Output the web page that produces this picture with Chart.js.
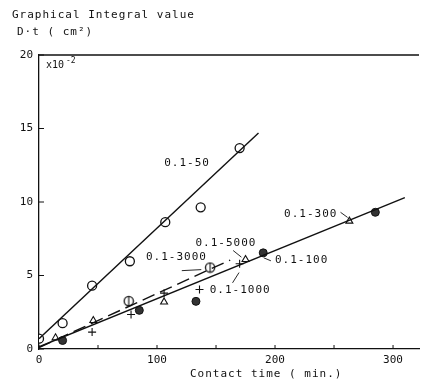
<!DOCTYPE html>
<html>
  <head>
    <title>Graphical integral value vs contact time</title>
    <script src="https://cdn.jsdelivr.net/npm/chart.js"></script>
    <style>
      body {
        margin: 0;
        background: #fff;
      }
      #wrap {
        width: 425px;
        height: 381px;
      }
    </style>
  </head>
  <body>
    <div id="wrap"><canvas id="chart"></canvas></div>

    <script>
      // contact time (min.) and D·t (x10^-2 cm^2) for each dilution
      const time50 = [0, 20, 45, 77, 107, 137, 170];
      const dt50 = [0.7, 1.76, 4.31, 5.97, 8.63, 9.64, 13.67];
      const time100 = [20, 85, 133, 190, 285];
      const dt100 = [0.58, 2.63, 3.24, 6.54, 9.3];
      const time300 = [263];
      const dt300 = [8.7];
      const time1000 = [45, 78, 106, 136, 170];
      const dt1000 = [1.15, 2.35, 3.8, 4.05, 5.8];
      const time3000 = [76, 145];
      const dt3000 = [3.26, 5.54];
      const time5000 = [14, 46, 106, 175];
      const dt5000 = [0.76, 1.94, 3.2, 6.09];

      // straight lines drawn through the points
      const lineUpperX = [0, 186];
      const lineUpperY = [0.7, 14.7];
      const lineLowerX = [0, 310];
      const lineLowerY = [0.15, 10.3];
      const lineDashX = [0, 162];
      const lineDashY = [0.1, 6.05];

      const xTicks = [0, 100, 200, 300];
      const xMinorTicks = [50, 150, 250];
      const yTicks = [0, 5, 10, 15, 20];

      // curve labels: text, time, value
      const curveLabels = [
        ["0.1-50", 125.5, 12.66],
        ["0.1-5000", 158.4, 7.22],
        ["0.1-3000", 116.5, 6.23],
        ["0.1-100", 222.5, 6.04],
        ["0.1-1000", 170.5, 3.99],
        ["0.1-300", 230.3, 9.16],
      ];
      // short leader strokes from labels to points
      const leaders = [
        [121, 5.33, 137.5, 5.4],
        [164.5, 6.7, 171.5, 6.25],
        [164, 4.5, 169.5, 5.2],
        [190.5, 6.2, 196.5, 6.0],
        [255.5, 9.3, 261.5, 8.95],
      ];

      const mono = "'DejaVu Sans Mono', monospace";
      const ink = "#111";

      function pts(xs, ys) {
        return xs.map((x, i) => ({ x: x, y: ys[i] }));
      }

      // circle with a vertical bar, used for the 0.1-3000 points
      function barredCircle() {
        const c = document.createElement("canvas");
        c.width = 12;
        c.height = 12;
        const g = c.getContext("2d");
        g.strokeStyle = ink;
        g.fillStyle = "#fff";
        g.lineWidth = 1.3;
        g.beginPath();
        g.arc(6, 6, 4.6, 0, Math.PI * 2);
        g.fill();
        g.stroke();
        g.lineWidth = 1.1;
        g.beginPath();
        g.moveTo(6, 1.2);
        g.lineTo(6, 10.8);
        g.stroke();
        return c;
      }

      const markers = {
        id: "markers",
        afterDraw(chart) {
          const { ctx, chartArea: a, scales } = chart;
          const sx = scales.x;
          const sy = scales.y;
          ctx.save();
          ctx.strokeStyle = ink;
          ctx.lineWidth = 1.3;
          // top frame line
          ctx.beginPath();
          ctx.moveTo(a.left, a.top);
          ctx.lineTo(a.right, a.top);
          ctx.stroke();

          // inward tick marks
          ctx.lineWidth = 1;
          ctx.beginPath();
          xTicks.concat(xMinorTicks).forEach((v) => {
            const px = sx.getPixelForValue(v);
            ctx.moveTo(px, a.bottom);
            ctx.lineTo(px, a.bottom - 4);
          });
          yTicks.forEach((v) => {
            const py = sy.getPixelForValue(v);
            ctx.moveTo(a.left, py);
            ctx.lineTo(a.left + 5, py);
          });
          ctx.stroke();

          // leaders
          ctx.lineWidth = 0.9;
          ctx.beginPath();
          leaders.forEach((l) => {
            ctx.moveTo(sx.getPixelForValue(l[0]), sy.getPixelForValue(l[1]));
            ctx.lineTo(sx.getPixelForValue(l[2]), sy.getPixelForValue(l[3]));
          });
          ctx.stroke();

          ctx.fillStyle = ink;
          ctx.textBaseline = "middle";
          ctx.letterSpacing = "1px";
          ctx.font = "11px " + mono;
          ctx.textAlign = "center";
          curveLabels.forEach((c) => {
            ctx.fillText(c[0], sx.getPixelForValue(c[1]), sy.getPixelForValue(c[2]));
          });

          // axis captions
          ctx.textAlign = "left";
          ctx.fillText("Graphical Integral value", 12, 15);
          ctx.fillText("D\u00b7t ( cm\u00b2)", 17, 32);
          ctx.fillText("Contact time ( min.)", 190, 374);
          ctx.letterSpacing = "0px";
          ctx.font = "10px " + mono;
          ctx.fillText("x10", a.left + 7, a.top + 10);
          ctx.font = "8px " + mono;
          ctx.fillText("-2", a.left + 27, a.top + 6);
          ctx.restore();
        },
      };

      new Chart(document.getElementById("chart"), {
        type: "scatter",
        data: {
          datasets: [
            {
              data: pts(lineUpperX, lineUpperY),
              showLine: true,
              borderColor: ink,
              borderWidth: 1.4,
              pointRadius: 0,
            },
            {
              data: pts(lineLowerX, lineLowerY),
              showLine: true,
              borderColor: ink,
              borderWidth: 1.4,
              pointRadius: 0,
            },
            {
              data: pts(lineDashX, lineDashY),
              showLine: true,
              borderColor: ink,
              borderWidth: 1.4,
              borderDash: [13, 6],
              pointRadius: 0,
            },
            {
              label: "0.1-50",
              data: pts(time50, dt50),
              pointStyle: "circle",
              pointRadius: 4.5,
              pointBorderWidth: 1.3,
              borderColor: ink,
              backgroundColor: "#fff",
            },
            {
              label: "0.1-100",
              data: pts(time100, dt100),
              pointStyle: "circle",
              pointRadius: 4,
              pointBorderWidth: 1,
              borderColor: ink,
              backgroundColor: "#333",
            },
            {
              label: "0.1-300",
              data: pts(time300, dt300),
              pointStyle: "triangle",
              pointRadius: 4,
              pointBorderWidth: 1.1,
              borderColor: ink,
              backgroundColor: "#fff",
            },
            {
              label: "0.1-1000",
              data: pts(time1000, dt1000),
              pointStyle: "cross",
              pointRadius: 4,
              pointBorderWidth: 1.1,
              borderColor: ink,
            },
            {
              label: "0.1-3000",
              data: pts(time3000, dt3000),
              pointStyle: barredCircle(),
              pointRadius: 5,
            },
            {
              label: "0.1-5000",
              data: pts(time5000, dt5000),
              pointStyle: "triangle",
              pointRadius: 4,
              pointBorderWidth: 1.1,
              borderColor: ink,
              backgroundColor: "#fff",
            },
          ],
        },
        options: {
          responsive: true,
          maintainAspectRatio: false,
          animation: false,
          layout: { padding: { top: 55, right: 2, left: 0, bottom: 0 } },
          plugins: {
            legend: { display: false },
            tooltip: { enabled: false },
          },
          scales: {
            x: {
              type: "linear",
              min: 0,
              max: 322,
              afterBuildTicks: (s) => {
                s.ticks = xTicks.map((v) => ({ value: v }));
              },
              afterFit: (s) => {
                s.height = 32;
              },
              grid: { drawOnChartArea: false, drawTicks: false },
              border: { color: ink, width: 1.3 },
              ticks: {
                color: ink,
                padding: 5,
                maxRotation: 0,
                font: { family: mono, size: 11 },
              },
            },
            y: {
              min: 0,
              max: 20,
              afterBuildTicks: (s) => {
                s.ticks = yTicks.map((v) => ({ value: v }));
              },
              afterFit: (s) => {
                s.width = 39;
              },
              grid: { drawOnChartArea: false, drawTicks: false },
              border: { color: ink, width: 1.3 },
              ticks: {
                color: ink,
                padding: 6,
                font: { family: mono, size: 11 },
              },
            },
          },
        },
        plugins: [markers],
      });
    </script>
  </body>
</html>
